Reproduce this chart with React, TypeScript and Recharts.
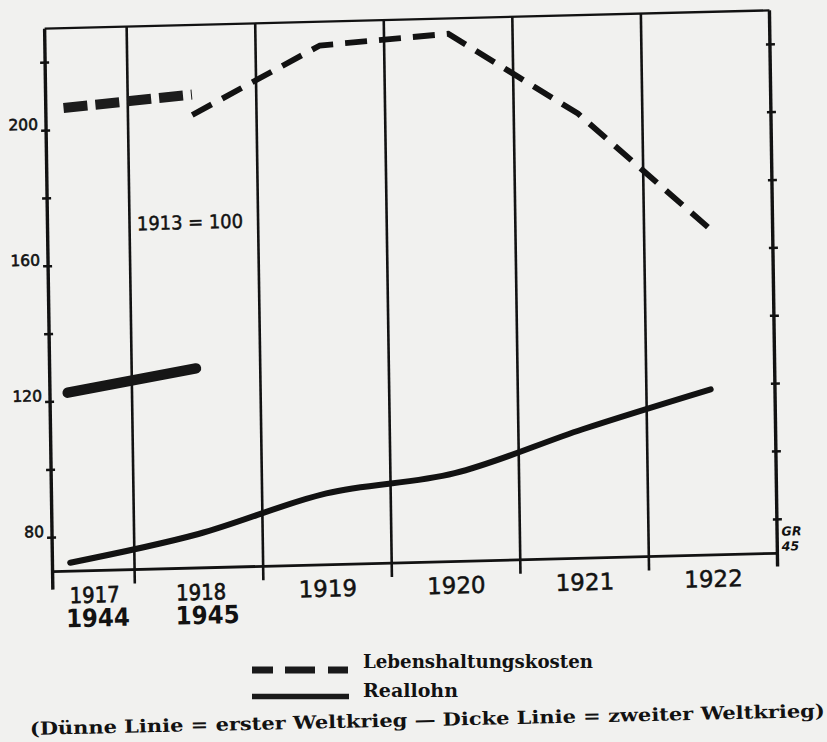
import React from 'react';
import { LineChart, Line, XAxis, YAxis, ReferenceLine } from 'recharts';

// ---- data ----
const years = [1917, 1918, 1919, 1920, 1921, 1922];
const yearLabelsWWI = ['1917', '1918', '1919', '1920', '1921', '1922'];
const yearLabelsWWII = ['1944', '1945', '', '', '', ''];
// index, 1913 = 100
const lebenshaltungWWI: (number | null)[] = [null, 203.5, 223, 225.5, 201, 166.5];
const reallohnWWI: (number | null)[] = [72.5, 80, 91, 96, 108, 118.8];
const lebenshaltungWWII: (number | null)[] = [206.5, 209.5, null, null, null, null];
const reallohnWWII: (number | null)[] = [122.6, 128.8, null, null, null, null];
const yTicks = [80, 100, 120, 140, 160, 180, 200, 220];
const yTickLabels = ['80', '', '120', '', '160', '', '200', ''];
const periodBounds = [1917.5, 1918.5, 1919.5, 1920.5, 1921.5];
const xDomain: [number, number] = [1916.862, 1922.5];
const yDomain: [number, number] = [70, 230];
const legendLabels = ['Lebenshaltungskosten', 'Reallohn'];
const caption = '(Dünne Linie = erster Weltkrieg — Dicke Linie = zweiter Weltkrieg)';
const baseNote = '1913 = 100';

const rows = years.map((year, i) => ({
  year,
  lebenWWI: lebenshaltungWWI[i],
  reallohnWWI: reallohnWWI[i],
  lebenWWII: lebenshaltungWWII[i],
  reallohnWWII: reallohnWWII[i],
}));

const INK = '#121212';
const SANS = 'DejaVu Sans, Verdana, sans-serif';
const SERIF = 'DejaVu Serif, Liberation Serif, serif';

const XTick = (props: any) => {
  const { x, y, payload } = props;
  const i = years.indexOf(payload.value);
  if (i < 0) return null;
  const first = yearLabelsWWI[i];
  const second = yearLabelsWWII[i];
  const dx1 = i === 0 ? 24 : i === 1 ? 2 : 0;
  const dx2 = i === 0 ? 27 : i === 1 ? 8 : 0;
  return (
    <g>
      {second ? (
        <text x={x + dx1} y={y + 32} textAnchor="middle" fontFamily={SANS} fontSize={22}
          textLength={50} lengthAdjust="spacingAndGlyphs" fill={INK} stroke={INK} strokeWidth={0.7}>{first}</text>
      ) : (
        <text x={x + dx1} y={y + 32} textAnchor="middle" fontFamily={SANS} fontSize={23}
          fill={INK} stroke={INK} strokeWidth={0.5}>{first}</text>
      )}
      {second && (
        <text x={x + dx2} y={y + 56} textAnchor="middle" fontFamily={SANS} fontSize={25}
          fontWeight="bold" textLength={64} lengthAdjust="spacingAndGlyphs" fill={INK}>{second}</text>
      )}
    </g>
  );
};

const LeftTick = (props: any) => {
  const { x, y, payload } = props;
  const label = yTickLabels[yTicks.indexOf(payload.value)];
  return (
    <g>
      <line x1={x - 5} x2={x + 4} y1={y} y2={y} stroke={INK} strokeWidth={2.5} />
      {label ? (
        <text x={x - 8} y={y - 1} textAnchor="end" fontFamily={SANS} fontSize={15.5} fill={INK}
          stroke={INK} strokeWidth={0.6}>{label}</text>
      ) : null}
    </g>
  );
};

const RightTick = (props: any) => {
  const { x, y } = props;
  return <line x1={x - 4} x2={x + 5} y1={y} y2={y} stroke={INK} strokeWidth={2.5} />;
};

export default function App() {
  return (
    <div style={{ position: 'absolute', left: 0, top: 0, width: 827, height: 742, background: '#f1f1ef', overflow: 'hidden' }}>
      <div style={{ position: 'absolute', left: 0, top: 0, width: 827, height: 742, transform: 'rotate(-0.84deg) skewY(-0.61deg)', transformOrigin: '411px 291px' }}>
        <LineChart width={827} height={742} data={rows} margin={{ top: 19.5, right: 0, left: 0, bottom: 109.5 }}>
          <XAxis dataKey="year" type="number" domain={xDomain} ticks={years} allowDataOverflow
            interval={0} height={70} tickSize={0} tickMargin={0} tickLine={false} axisLine={false}
            tick={(p: any) => <XTick {...p} />} />
          <YAxis domain={yDomain} ticks={yTicks} allowDataOverflow interval={0} width={48.5}
            tickSize={0} tickMargin={0} tickLine={false} axisLine={false}
            tick={(p: any) => <LeftTick {...p} />} />
          <YAxis yAxisId="r" orientation="right" domain={yDomain} ticks={yTicks} allowDataOverflow interval={0}
            width={53.5} tickSize={0} tickMargin={0} tickLine={false} axisLine={false}
            tick={(p: any) => <RightTick {...p} />} />

          {periodBounds.map((b) => (
            <ReferenceLine key={b} segment={[{ x: b, y: 65.9 }, { x: b, y: yDomain[1] }]}
              ifOverflow="visible" stroke={INK} strokeWidth={2.6} />
          ))}
          <ReferenceLine segment={[{ x: xDomain[0], y: 64.7 }, { x: xDomain[0], y: yDomain[1] }]}
            ifOverflow="visible" stroke={INK} strokeWidth={3.4} />
          <ReferenceLine segment={[{ x: xDomain[1], y: 66.1 }, { x: xDomain[1], y: yDomain[1] }]}
            ifOverflow="visible" stroke={INK} strokeWidth={3.4} />
          <ReferenceLine segment={[{ x: xDomain[0], y: yDomain[0] }, { x: xDomain[1], y: yDomain[0] }]}
            ifOverflow="visible" stroke={INK} strokeWidth={2.8} />
          <ReferenceLine segment={[{ x: xDomain[0], y: yDomain[1] }, { x: xDomain[1], y: yDomain[1] }]}
            ifOverflow="visible" stroke={INK} strokeWidth={2.3} />

          <Line dataKey="reallohnWWII" type="linear" stroke="#161616" strokeWidth={10.5}
            strokeLinecap="round" dot={false} isAnimationActive={false} />
          <Line dataKey="lebenWWII" type="linear" stroke="#1c1c1c" strokeWidth={10}
            strokeDasharray="24 8" dot={false} isAnimationActive={false} />
          <Line dataKey="reallohnWWI" type="monotone" stroke={INK} strokeWidth={6}
            strokeLinecap="round" dot={false} isAnimationActive={false} />
          <Line dataKey="lebenWWI" type="linear" stroke={INK} strokeWidth={5.8}
            strokeDasharray="22 12" dot={false} isAnimationActive={false} />
        </LineChart>
        <svg width={827} height={742} style={{ position: 'absolute', left: 0, top: 0, pointerEvents: 'none' }}>
          <text x={191} y={223.5} textAnchor="middle" fontFamily={SANS} fontSize={19}
            textLength={106} lengthAdjust="spacingAndGlyphs" fill={INK} stroke={INK} strokeWidth={0.5}>{baseNote}</text>
          <text x={778} y={545} fontFamily={SANS} fontSize={12.5} fontWeight="bold" fontStyle="italic" fill={INK}>GR</text>
          <text x={778} y={560} fontFamily={SANS} fontSize={12.5} fontWeight="bold" fontStyle="italic" fill={INK}>45</text>
        </svg>
      </div>
      <svg width={827} height={742} style={{ position: 'absolute', left: 0, top: 0, pointerEvents: 'none' }}>
        <line x1={252} x2={348} y1={670} y2={670} stroke="#1a1a1a" strokeWidth={7} strokeDasharray="21 12 30 13 20" />
        <text x={363} y={668} fontFamily={SERIF} fontSize={18} fontWeight="bold"
          textLength={230} lengthAdjust="spacingAndGlyphs" fill={INK}>{legendLabels[0]}</text>
        <line x1={252} x2={349} y1={696.5} y2={696.5} stroke="#1a1a1a" strokeWidth={5.5} />
        <text x={363} y={697} fontFamily={SERIF} fontSize={18} fontWeight="bold"
          textLength={95} lengthAdjust="spacingAndGlyphs" fill={INK}>{legendLabels[1]}</text>
        <text x={30} y={735} transform="rotate(-1.3 30 735)" fontFamily={SERIF} fontSize={18} fontWeight="bold"
          textLength={795} lengthAdjust="spacingAndGlyphs" fill={INK}>{caption}</text>
      </svg>
    </div>
  );
}
